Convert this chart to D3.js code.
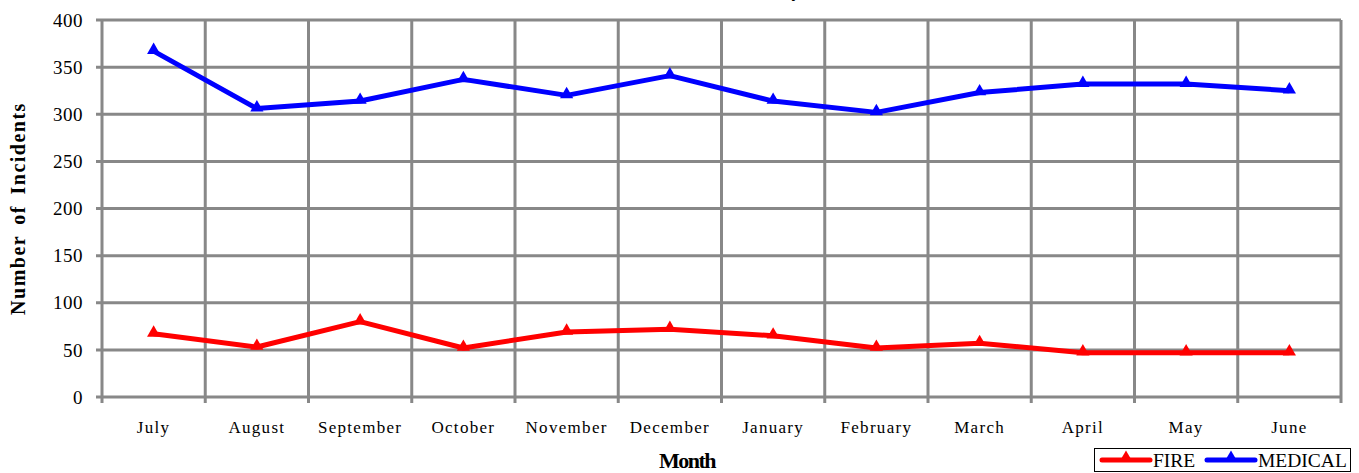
<!DOCTYPE html>
<html>
<head>
<meta charset="utf-8">
<script src="https://cdn.jsdelivr.net/npm/d3@7"></script>
<style>
  body { margin: 0; background: #fff; }
  text { font-family: "Liberation Serif", "Times New Roman", serif; fill: #000; }
</style>
</head>
<body>
<div id="chart"></div>
<script>
const months = ["July", "August", "September", "October", "November", "December",
    "January", "February", "March", "April", "May", "June"];
const fire = [67, 53, 80, 52, 69, 72, 65, 52, 57, 47, 47, 47];
const medical = [367, 306, 314, 337, 320, 341, 314, 302, 323, 332, 332, 325];
const yTicks = [0, 50, 100, 150, 200, 250, 300, 350, 400];
const seriesNames = ["FIRE", "MEDICAL"];
const seriesColors = ["#ff0000", "#0000ff"];

const width = 1359, height = 473;
const margin = {top: 20, right: 18, bottom: 76, left: 102};

const svg = d3.select("#chart").append("svg")
    .attr("width", width)
    .attr("height", height);

const x = d3.scaleBand()
    .domain(months)
    .range([margin.left, width - margin.right]);

const y = d3.scaleLinear()
    .domain([0, 400])
    .range([height - margin.bottom, margin.top]);

// title, clipped by the top of the page like in the original
svg.append("text")
    .attr("x", 857)
    .attr("y", -3)
    .attr("text-anchor", "end")
    .style("font-size", "18px")
    .style("font-weight", "bold")
    .text("Fire and Medical Incidents by Month");

// grid
const grid = svg.append("g").attr("stroke", "#888").attr("stroke-width", 3);
grid.selectAll("line.h")
    .data(yTicks)
    .join("line")
    .attr("class", "h")
    .attr("x1", margin.left - 6)
    .attr("x2", width - margin.right)
    .attr("y1", d => y(d))
    .attr("y2", d => y(d));

const bounds = months.map(m => x(m)).concat([x(months[months.length - 1]) + x.bandwidth()]);
grid.selectAll("line.v")
    .data(bounds)
    .join("line")
    .attr("class", "v")
    .attr("x1", d => d)
    .attr("x2", d => d)
    .attr("y1", margin.top)
    .attr("y2", y(0) + 6);

// y axis labels
svg.append("g")
    .selectAll("text")
    .data(yTicks)
    .join("text")
    .attr("x", margin.left - 19)
    .attr("y", d => y(d))
    .attr("dy", "0.35em")
    .attr("text-anchor", "end")
    .style("font-size", "19px")
    .style("letter-spacing", "0.5px")
    .text(d => d);

// x axis labels
svg.append("g")
    .selectAll("text")
    .data(months)
    .join("text")
    .attr("x", d => x(d) + x.bandwidth() / 2)
    .attr("y", 433)
    .attr("text-anchor", "middle")
    .style("font-size", "17px")
    .style("letter-spacing", "1.3px")
    .text(d => d);

// axis titles
svg.append("text")
    .attr("transform", `translate(25, ${(y(0) + y(400)) / 2}) rotate(-90)`)
    .attr("text-anchor", "middle")
    .style("font-size", "20px")
    .style("font-weight", "bold")
    .style("word-spacing", "4px")
    .style("letter-spacing", "1.5px")
    .text("Number of Incidents");

svg.append("text")
    .attr("x", 687)
    .attr("y", 468)
    .attr("text-anchor", "middle")
    .style("font-size", "22px")
    .style("font-weight", "bold")
    .style("letter-spacing", "-1.5px")
    .text("Month");

// series
const series = [fire, medical];
const line = d3.line()
    .x((d, i) => x(months[i]) + x.bandwidth() / 2)
    .y(d => y(d));
const tri = d3.symbol().type(d3.symbolTriangle).size(75);

series.forEach((values, s) => {
    const g = svg.append("g");
    g.append("path")
        .datum(values)
        .attr("fill", "none")
        .attr("stroke", seriesColors[s])
        .attr("stroke-width", 5)
        .attr("stroke-linejoin", "round")
        .attr("d", line);
    g.selectAll("path.m")
        .data(values)
        .join("path")
        .attr("class", "m")
        .attr("fill", seriesColors[s])
        .attr("transform", (d, i) => `translate(${x(months[i]) + x.bandwidth() / 2}, ${y(d) - 1})`)
        .attr("d", tri);
});

// legend
const legend = svg.append("g");
legend.append("rect")
    .attr("x", 1094.5)
    .attr("y", 448.5)
    .attr("width", 256)
    .attr("height", 23)
    .attr("fill", "#fff")
    .attr("stroke", "#000");

const legendX = [1102, 1207];
seriesNames.forEach((name, s) => {
    const lx = legendX[s];
    legend.append("line")
        .attr("x1", lx).attr("x2", lx + 48)
        .attr("y1", 460).attr("y2", 460)
        .attr("stroke", seriesColors[s])
        .attr("stroke-width", 5)
        .attr("stroke-linecap", "round");
    legend.append("path")
        .attr("fill", seriesColors[s])
        .attr("transform", `translate(${lx + 24}, 458)`)
        .attr("d", tri);
    legend.append("text")
        .attr("x", lx + 51)
        .attr("y", 467)
        .style("font-size", "19.5px")
        .text(name);
});
</script>
</body>
</html>
